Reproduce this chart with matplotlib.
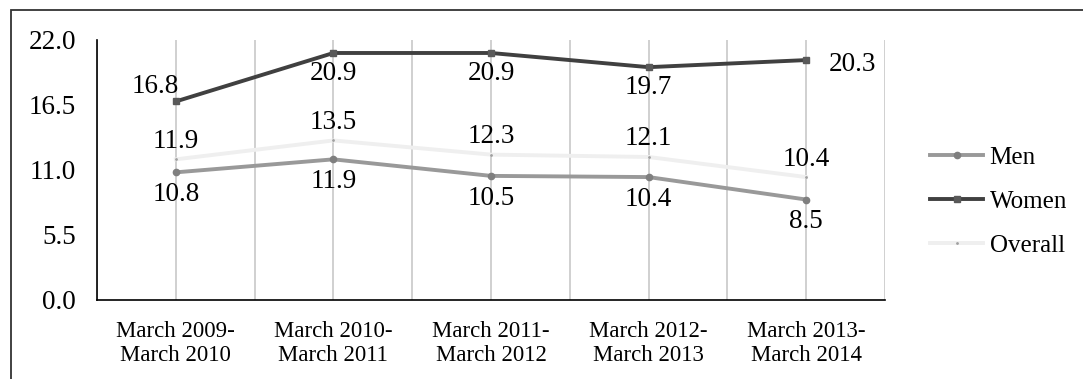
import matplotlib.pyplot as plt
import matplotlib as mpl
from matplotlib.patches import Rectangle

mpl.rcParams['font.family'] = 'Liberation Serif'
mpl.rcParams.update({'font.size': 19.5})

periods = ['March 2009-\nMarch 2010', 'March 2010-\nMarch 2011', 'March 2011-\nMarch 2012',
           'March 2012-\nMarch 2013', 'March 2013-\nMarch 2014']
men = [10.8, 11.9, 10.5, 10.4, 8.5]
women = [16.8, 20.9, 20.9, 19.7, 20.3]
overall = [11.9, 13.5, 12.3, 12.1, 10.4]
y_ticks = [0.0, 5.5, 11.0, 16.5, 22.0]

fig = plt.figure(figsize=(10.83, 3.79), dpi=100)
ax = fig.add_axes([0.0896, 0.2085, 0.7275, 0.686])

x = list(range(len(periods)))
ax.plot(x, men, color='#999999', lw=2.8, marker='o', ms=4.5,
        mfc='#7f7f7f', mec='#7f7f7f', label='Men', zorder=3)
ax.plot(x, women, color='#404040', lw=2.8, marker='s', ms=4.5,
        mfc='#595959', mec='#595959', label='Women', zorder=3)
ax.plot(x, overall, color='#efefef', lw=2.8, marker='.', ms=2,
        mfc='#a0a0a0', mec='#a0a0a0', label='Overall', zorder=2)

# value labels: women mostly below, overall above, men below
women_off = [(-15, 11), (0, -15), (0, -15), (0, -15), (33, -3)]
for i, v in enumerate(women):
    dx, dy = women_off[i]
    ax.annotate(f'{v:.1f}', (i, v), xytext=(dx, dy), textcoords='offset points',
                ha='center', va='center')
for i, v in enumerate(overall):
    ax.annotate(f'{v:.1f}', (i, v), xytext=(0, 13), textcoords='offset points',
                ha='center', va='center')
for i, v in enumerate(men):
    ax.annotate(f'{v:.1f}', (i, v), xytext=(0, -16), textcoords='offset points',
                ha='center', va='center')

ax.set_xlim(-0.5, len(periods) - 0.5)
ax.set_ylim(0, 22)
ax.set_yticks(y_ticks)
ax.set_yticklabels([f'{t:.1f}' for t in y_ticks])
ax.set_xticks(x)
ax.set_xticklabels(periods, fontsize=16.5, linespacing=1.2)
ax.tick_params(axis='y', length=0, pad=15)
ax.tick_params(axis='x', length=0, pad=15)

# gridlines at category centres and boundaries
for g in [i * 0.5 - 0.5 for i in range(2 * len(periods) + 1)]:
    ax.axvline(g, color='#c4c4c4', lw=1.1, zorder=0)

for side in ['top', 'right']:
    ax.spines[side].set_visible(False)
ax.spines['left'].set_color('black')
ax.spines['bottom'].set_color('black')
ax.spines['left'].set_linewidth(1.2)
ax.spines['bottom'].set_linewidth(1.2)

ax.legend(loc='center left', bbox_to_anchor=(1.029, 0.378), frameon=False,
          handlelength=2.1, labelspacing=0.85, handletextpad=0.27, fontsize=18)

fig.patches.append(Rectangle((11 / 1083, -0.1), 1.2, 1 - 10 / 379 + 0.1,
                             transform=fig.transFigure, fill=False,
                             edgecolor='#333333', lw=1.3))

plt.savefig('out.png', dpi=100)
